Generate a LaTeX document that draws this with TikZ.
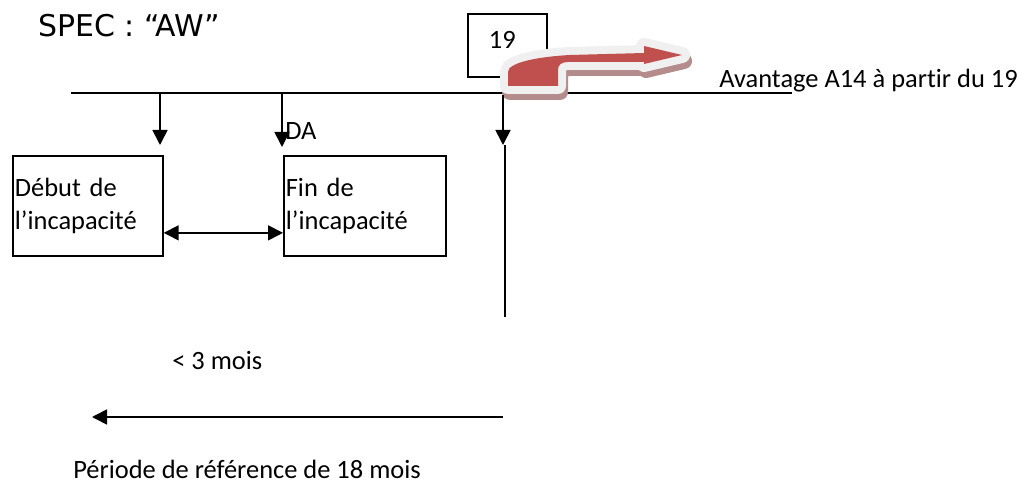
\documentclass[tikz,border=0pt]{standalone}
\usepackage{fontspec}
\setmainfont{Carlito}[Ligatures=NoCommon]
\newfontfamily\specfont{DejaVu Sans}
\usetikzlibrary{arrows.meta}
\definecolor{arrowred}{RGB}{192,80,77}
\definecolor{glowgray}{RGB}{240,240,240}
\definecolor{shadowrose}{RGB}{180,140,140}
\tikzset{txt/.style={anchor=base west,inner sep=0pt,font=\fontsize{18.8}{24}\selectfont},
box/.style={draw,line width=1.2pt,anchor=north west,inner xsep=0.05cm,align=left,font=\fontsize{18.8}{24}\selectfont},
arr/.style={line width=1.2pt,-{Triangle[width=0.375cm,length=0.375cm]}},
arrboth/.style={line width=1.2pt,{Triangle[width=0.375cm,length=0.375cm]}-{Triangle[width=0.375cm,length=0.375cm]}},
bentarrow/.style={insert path={(508,86) -- (508,72) .. controls (508,63) and (535,57) .. (570,55) -- (644,53) -- (644,46) -- (682,55) -- (644,64) -- (644,62) -- (568,62) .. controls (561,62) and (558,65) .. (558,70) -- (558,86) -- cycle}}}

\begin{document}
\begin{tikzpicture}[x=0.025cm,y=-0.025cm]
\useasboundingbox (0,0) rectangle (1030,490);
\coordinate (l0) at (71,93);
\coordinate (l1) at (792,93);
\draw[line width=1.2pt] (l0) -- (l1);
\node[box,minimum width=3.75cm,minimum height=2.5cm,text width=3.65cm] (debut) at (12,155) {Début de\\l’incapacité};
\node[box,minimum width=4.05cm,minimum height=2.5cm,text width=3.95cm] (fin) at (283,155) {Fin de\\l’incapacité};
\node[box,minimum width=1.975cm,minimum height=1.575cm,inner xsep=0.525cm,text width=0.925cm,text depth=0.25cm] (b19) at (467,13) {19};
% curved arrow
\filldraw[shadowrose,shift={(2,6)},line width=0.4cm,line join=round,bentarrow];
\filldraw[glowgray,line width=0.4cm,line join=round,bentarrow];
\fill[arrowred,bentarrow];
\coordinate (t1) at (160,93);
\coordinate (d1) at (160,145);
\coordinate (t2) at (282,93);
\coordinate (d2) at (282,147);
\coordinate (t3) at (503,95);
\coordinate (d3) at (503,145);
\coordinate (v0) at (505,145);
\coordinate (v1) at (505,317);
\coordinate (r0) at (503,417);
\coordinate (r1) at (92,417);
\draw[arr] (t1) -- (d1);
\draw[arr] (t2) -- (d2);
\draw[arr] (t3) -- (d3);
\draw[line width=1.2pt] (v0) -- (v1);
\draw[arrboth] ([yshift=-0.675cm]debut.east) -- ([yshift=-0.675cm]fin.west);
\draw[arr] (r0) -- (r1);
\node[txt,font=\specfont\fontsize{21.3}{26}\selectfont] (spec) at (38,37) {SPEC : “AW”};
\node[txt] (avantage) at (719,88) {Avantage A14 à partir du 19};
\node[txt] (da) at (285,140) {DA};
\node[txt] (trois) at (172,370) {< 3 mois};
\node[txt] (periode) at (73,478) {Période de référence de 18 mois};
\end{tikzpicture}
\end{document}
